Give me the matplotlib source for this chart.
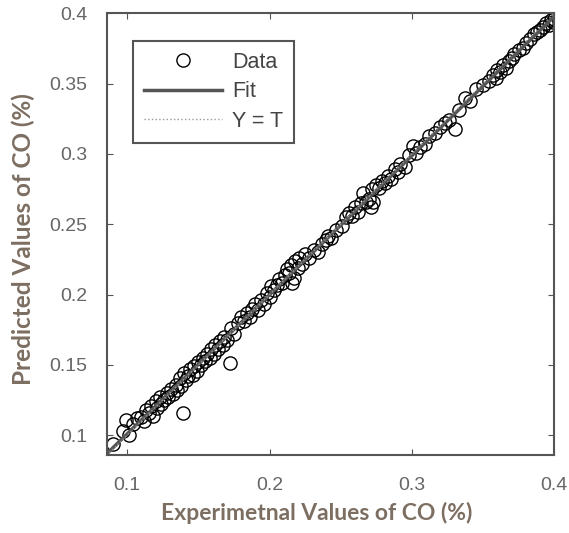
import numpy as np
import matplotlib.pyplot as plt

# measured vs. predicted CO (%)
expCO = [0.090, 0.097, 0.099, 0.101, 0.104, 0.107, 0.110, 0.112, 0.113, 0.115,
         0.117, 0.118, 0.120, 0.121, 0.123, 0.124, 0.126, 0.128, 0.129, 0.131,
         0.132, 0.134, 0.135, 0.137, 0.138, 0.139, 0.140, 0.141, 0.143, 0.144,
         0.146, 0.147, 0.149, 0.150, 0.152, 0.153, 0.155, 0.156, 0.158, 0.159,
         0.161, 0.162, 0.164, 0.165, 0.167, 0.168, 0.170, 0.172, 0.173, 0.175,
         0.178, 0.180, 0.182, 0.184, 0.186, 0.188, 0.190, 0.192, 0.194, 0.196,
         0.198, 0.200, 0.201, 0.203, 0.205, 0.207, 0.209, 0.211, 0.212, 0.214,
         0.215, 0.216, 0.217, 0.218, 0.220, 0.221, 0.223, 0.225, 0.228, 0.231,
         0.234, 0.237, 0.240, 0.241, 0.243, 0.247, 0.251, 0.254, 0.256, 0.258,
         0.260, 0.262, 0.264, 0.266, 0.268, 0.270, 0.271, 0.272, 0.273, 0.275,
         0.277, 0.279, 0.281, 0.283, 0.285, 0.288, 0.290, 0.292, 0.295, 0.298,
         0.301, 0.303, 0.306, 0.309, 0.312, 0.316, 0.320, 0.323, 0.326, 0.330,
         0.333, 0.337, 0.341, 0.345, 0.350, 0.354, 0.357, 0.359, 0.360, 0.362,
         0.364, 0.366, 0.368, 0.370, 0.372, 0.375, 0.378, 0.380, 0.383, 0.386,
         0.388, 0.390, 0.392, 0.394, 0.396, 0.398, 0.399, 0.400]
predCO = [0.094, 0.103, 0.111, 0.100, 0.108, 0.112, 0.113, 0.110, 0.118, 0.116,
          0.121, 0.114, 0.124, 0.119, 0.127, 0.122, 0.125, 0.130, 0.127, 0.133,
          0.129, 0.136, 0.132, 0.141, 0.135, 0.116, 0.144, 0.139, 0.142, 0.147,
          0.143, 0.149, 0.146, 0.152, 0.150, 0.155, 0.153, 0.158, 0.155, 0.161,
          0.158, 0.164, 0.161, 0.167, 0.164, 0.170, 0.168, 0.151, 0.176, 0.172,
          0.180, 0.184, 0.181, 0.187, 0.184, 0.190, 0.193, 0.189, 0.196, 0.193,
          0.201, 0.198, 0.206, 0.203, 0.207, 0.211, 0.208, 0.214, 0.218, 0.215,
          0.221, 0.208, 0.212, 0.224, 0.219, 0.226, 0.222, 0.229, 0.226, 0.232,
          0.230, 0.236, 0.239, 0.242, 0.240, 0.246, 0.249, 0.255, 0.258, 0.256,
          0.262, 0.259, 0.265, 0.272, 0.266, 0.268, 0.262, 0.275, 0.266, 0.278,
          0.276, 0.281, 0.279, 0.284, 0.282, 0.289, 0.287, 0.293, 0.291, 0.299,
          0.306, 0.301, 0.305, 0.307, 0.313, 0.315, 0.319, 0.322, 0.324, 0.318,
          0.331, 0.340, 0.338, 0.346, 0.349, 0.352, 0.356, 0.354, 0.360, 0.358,
          0.363, 0.361, 0.366, 0.368, 0.371, 0.374, 0.375, 0.379, 0.382, 0.385,
          0.387, 0.388, 0.390, 0.393, 0.392, 0.395, 0.394, 0.396]

xTicks = [0.1, 0.2, 0.3, 0.4]
yTicks = [0.1, 0.15, 0.2, 0.25, 0.3, 0.35, 0.4]
lims = (0.0858, 0.4)

labelColor = '#7d6e62'
tickColor = '#666666'
plt.rcParams['font.family'] = ['Liberation Sans', 'DejaVu Sans']

x = np.array(expCO)
y = np.array(predCO)
p = np.polyfit(x, y, 1)
xl = np.array(lims)

fig = plt.figure(figsize=(5.69, 5.33), dpi=100)
ax = fig.add_axes([0.188, 0.146, 0.786, 0.829])

ax.plot(x, y, 'o', mfc='none', mec='black', ms=9.5, mew=1.0, label='Data')
ax.plot(xl, np.polyval(p, xl), '-', color='#555555', lw=2.5, label='Fit')
ax.plot(xl, xl, ':', color='#999999', lw=1.0, label='Y = T')

ax.set_xlim(lims)
ax.set_ylim(lims)
ax.set_xticks(xTicks)
ax.set_xticklabels(['0.1', '0.2', '0.3', '0.4'])
ax.set_yticks(yTicks)
ax.set_yticklabels(['0.1', '0.15', '0.2', '0.25', '0.3', '0.35', '0.4'])
ax.tick_params(direction='in', length=4, top=True, right=True,
               colors='#555555', labelcolor=tickColor, labelsize=14)
ax.tick_params(axis='x', pad=16)
ax.tick_params(axis='y', pad=14)
for s in ax.spines.values():
    s.set_color('#555555')
    s.set_linewidth(1.5)

ax.set_xlabel('Experimetnal Values of CO (%)', fontsize=16.5, fontweight='bold',
              family='Lato', color=labelColor)
ax.set_ylabel('Predicted Values of CO (%)', fontsize=17.5, fontweight='bold',
              family='Lato', color=labelColor)
ax.xaxis.set_label_coords(0.47, -0.105)
ax.yaxis.set_label_coords(-0.16, 0.49)

leg = ax.legend(loc='upper left', bbox_to_anchor=(0.035, 0.962), fontsize=15.5,
                handlelength=3.6, fancybox=False, framealpha=1,
                edgecolor='#555555', borderpad=0.5, labelspacing=0.4,
                handletextpad=0.5)
leg.get_frame().set_linewidth(1.5)
for t in leg.get_texts():
    t.set_color('#444444')

fig.savefig('out.png', dpi=100)
